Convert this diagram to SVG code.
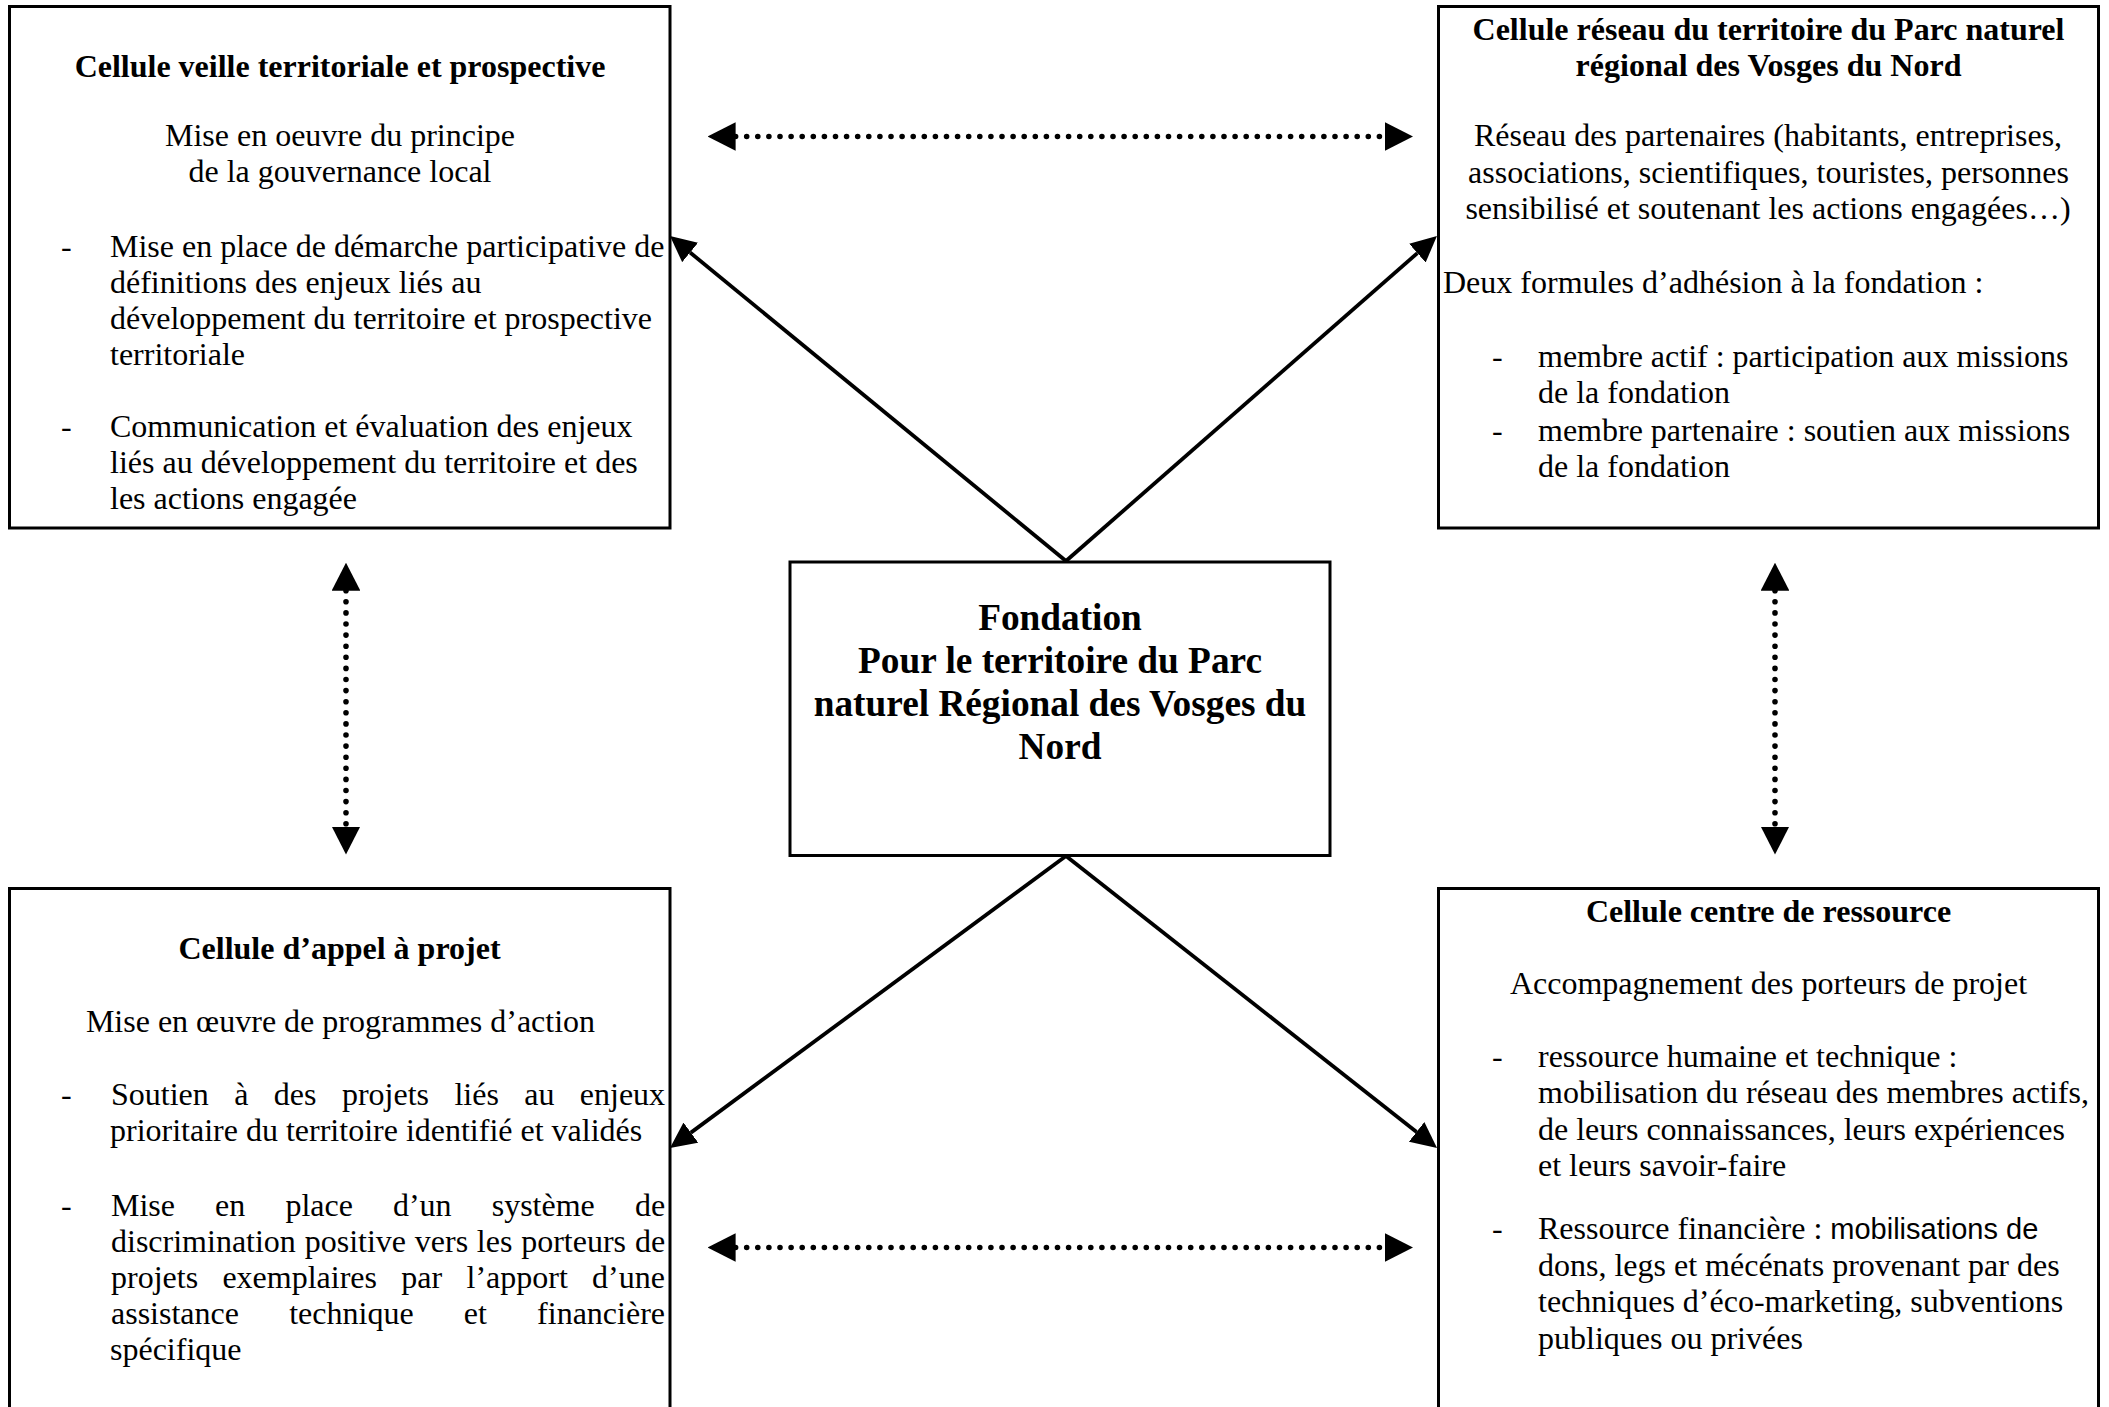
<svg xmlns="http://www.w3.org/2000/svg" width="2109" height="1407" viewBox="0 0 2109 1407">
<style>
.bg{fill:#fff}
.box{fill:#fff;stroke:#000;stroke-width:3}
.t{font-family:"Liberation Serif","Times New Roman",serif;font-size:32px;fill:#000}
.b{font-weight:bold}
.c{text-anchor:middle}
.big{font-size:37.3px}
.sans{font-family:"Liberation Sans",Arial,sans-serif;font-size:29px}
.conn{stroke:#000;stroke-width:3.8;fill:none}
.dot{stroke:#000;stroke-width:5.6;stroke-linecap:round;stroke-dasharray:0 11.1;fill:none}
</style>
<defs>
<marker id="ah" viewBox="0 -12.5 26 25" refX="0" refY="0" markerWidth="26" markerHeight="25" markerUnits="userSpaceOnUse" orient="auto">
<path d="M0,-12.5 L26,0 L0,12.5 z" fill="#000"/>
</marker>
<marker id="ahd" viewBox="0 -14.3 28 28.6" refX="0" refY="0" markerWidth="28" markerHeight="28.6" markerUnits="userSpaceOnUse" orient="auto-start-reverse">
<path d="M0,-14.3 L28,0 L0,14.3 z" fill="#000"/>
</marker>
</defs>
<rect class="bg" x="0" y="0" width="2109" height="1407"/>

<g id="connectors">
<line class="conn" x1="1066" y1="561" x2="690.1" y2="252.5" marker-end="url(#ah)"/>
<line class="conn" x1="1066" y1="561" x2="1417.4" y2="253.1" marker-end="url(#ah)"/>
<line class="conn" x1="1066" y1="856" x2="690.9" y2="1132.6" marker-end="url(#ah)"/>
<line class="conn" x1="1066" y1="856" x2="1416.6" y2="1131.9" marker-end="url(#ah)"/>
<line class="dot" x1="735.6" y1="136.5" x2="1385" y2="136.5" marker-start="url(#ahd)" marker-end="url(#ahd)"/>
<line class="dot" x1="735.6" y1="1247.5" x2="1385" y2="1247.5" marker-start="url(#ahd)" marker-end="url(#ahd)"/>
<line class="dot" x1="346" y1="590.7" x2="346" y2="826.5" marker-start="url(#ahd)" marker-end="url(#ahd)"/>
<line class="dot" x1="1775" y1="590.7" x2="1775" y2="826.5" marker-start="url(#ahd)" marker-end="url(#ahd)"/>
</g>

<g id="veille">
<rect class="box" x="9.5" y="6.5" width="660.5" height="521.5"/>
<text class="t b c" x="340" y="76.5">Cellule veille territoriale et prospective</text>
<text class="t c" x="340" y="146">Mise en oeuvre du principe</text>
<text class="t c" x="340" y="182.2">de la gouvernance local</text>
<text class="t" x="61" y="256.5">-</text>
<text class="t" x="110" y="256.5">Mise en place de démarche participative de</text>
<text class="t" x="110" y="292.7">définitions des enjeux liés au</text>
<text class="t" x="110" y="328.9">développement du territoire et prospective</text>
<text class="t" x="110" y="365.1">territoriale</text>
<text class="t" x="61" y="437">-</text>
<text class="t" x="110" y="437">Communication et évaluation des enjeux</text>
<text class="t" x="110" y="473.2">liés au développement du territoire et des</text>
<text class="t" x="110" y="509.4">les actions engagée</text>
</g>

<g id="reseau">
<rect class="box" x="1438.5" y="6.5" width="660" height="521.5"/>
<text class="t b c" x="1768.5" y="40">Cellule réseau du territoire du Parc naturel</text>
<text class="t b c" x="1768.5" y="76">régional des Vosges du Nord</text>
<text class="t c" x="1768" y="146">Réseau des partenaires (habitants, entreprises,</text>
<text class="t c" x="1768.5" y="182.5">associations, scientifiques, touristes, personnes</text>
<text class="t c" x="1768" y="219">sensibilisé et soutenant les actions engagées…)</text>
<text class="t" x="1443" y="292.7">Deux formules d’adhésion à la fondation :</text>
<text class="t" x="1492" y="366.7">-</text>
<text class="t" x="1538" y="366.7">membre actif : participation aux missions</text>
<text class="t" x="1538" y="403">de la fondation</text>
<text class="t" x="1492" y="440.8">-</text>
<text class="t" x="1538" y="440.8">membre partenaire : soutien aux missions</text>
<text class="t" x="1538" y="477">de la fondation</text>
</g>

<g id="fondation">
<rect class="box" x="790" y="562" width="540" height="293.5"/>
<text class="t b c big" x="1060" y="630">Fondation</text>
<text class="t b c big" x="1060" y="672.5">Pour le territoire du Parc</text>
<text class="t b c big" x="1060" y="715.5">naturel Régional des Vosges du</text>
<text class="t b c big" x="1060" y="759">Nord</text>
</g>

<g id="appel">
<rect class="box" x="9.5" y="888.5" width="660.5" height="540"/>
<text class="t b c" x="339.5" y="959.3">Cellule d’appel à projet</text>
<text class="t c" x="340.5" y="1031.6">Mise en œuvre de programmes d’action</text>
<text class="t" x="61" y="1105.3">-</text>
<text class="t" y="1105.3"><tspan x="111">Soutien</tspan><tspan x="234.2">à</tspan><tspan x="273.8">des</tspan><tspan x="341.9">projets</tspan><tspan x="454.4">liés</tspan><tspan x="524.2">au</tspan><tspan x="579.8">enjeux</tspan></text>
<text class="t" x="110" y="1141">prioritaire du territoire identifié et validés</text>
<text class="t" x="61" y="1215.5">-</text>
<text class="t" y="1215.5"><tspan x="111">Mise</tspan><tspan x="215.1">en</tspan><tspan x="285.4">place</tspan><tspan x="392.9">d’un</tspan><tspan x="491.7">système</tspan><tspan x="634.9">de</tspan></text>
<text class="t" y="1251.5"><tspan x="111">discrimination</tspan><tspan x="304.7">positive</tspan><tspan x="414.8">vers</tspan><tspan x="476.8">les</tspan><tspan x="521.2">porteurs</tspan><tspan x="634.9">de</tspan></text>
<text class="t" y="1287.5"><tspan x="111">projets</tspan><tspan x="222.4">exemplaires</tspan><tspan x="401.3">par</tspan><tspan x="466.5">l’apport</tspan><tspan x="592.1">d’une</tspan></text>
<text class="t" y="1323.5"><tspan x="111">assistance</tspan><tspan x="289.2">technique</tspan><tspan x="463.8">et</tspan><tspan x="537.1">financière</tspan></text>
<text class="t" x="110" y="1359.5">spécifique</text>
</g>

<g id="ressource">
<rect class="box" x="1438.5" y="888.5" width="660" height="540"/>
<text class="t b c" x="1768.5" y="922">Cellule centre de ressource</text>
<text class="t c" x="1768.5" y="994.4">Accompagnement des porteurs de projet</text>
<text class="t" x="1492" y="1066.7">-</text>
<text class="t" x="1538" y="1066.7">ressource humaine et technique :</text>
<text class="t" x="1538" y="1103.2">mobilisation du réseau des membres actifs,</text>
<text class="t" x="1538" y="1139.7">de leurs connaissances, leurs expériences</text>
<text class="t" x="1538" y="1176.2">et leurs savoir-faire</text>
<text class="t" x="1492" y="1239">-</text>
<text class="t" x="1538" y="1239">Ressource financière : <tspan class="sans">mobilisations de</tspan></text>
<text class="t" x="1538" y="1275.5">dons, legs et mécénats provenant par des</text>
<text class="t" x="1538" y="1312">techniques d’éco-marketing, subventions</text>
<text class="t" x="1538" y="1348.5">publiques ou privées</text>
</g>
</svg>
